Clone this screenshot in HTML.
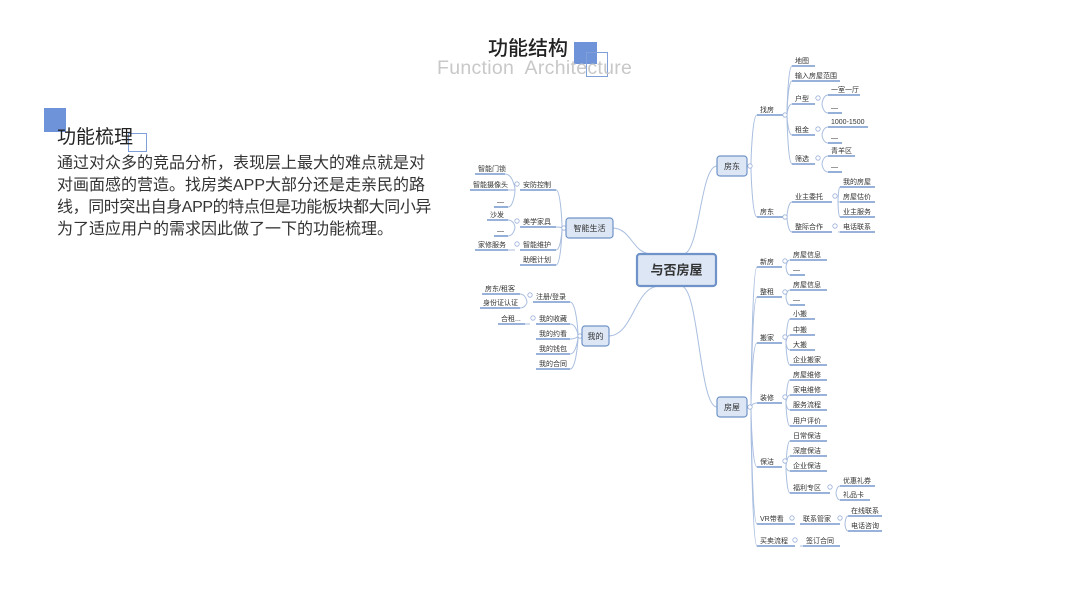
<!DOCTYPE html>
<html><head><meta charset="utf-8">
<style>
html,body{margin:0;padding:0;width:1067px;height:600px;overflow:hidden;background:#fff;font-family:"Liberation Sans","Noto Sans CJK SC",sans-serif;}
.a{position:absolute;}
</style></head><body>
<div class="a" style="left:574px;top:42px;width:23px;height:22px;background:#6f93d8;"></div>
<div class="a" style="left:586px;top:52px;width:22px;height:25px;border:1px solid #7f9fd8;box-sizing:border-box;"></div>
<div class="a" style="left:488px;top:32px;font-size:20px;color:#222;font-weight:500;">功能结构</div>
<div class="a" style="left:437px;top:57px;font-size:19.5px;color:#c8c8c8;letter-spacing:0.3px;">Function&nbsp; Architecture</div>

<div class="a" style="left:44px;top:108px;width:22px;height:24px;background:#6f93d8;"></div>
<div class="a" style="left:128px;top:133px;width:19px;height:19px;border:1px solid #7f9fd8;box-sizing:border-box;"></div>
<div class="a" style="left:57px;top:122px;font-size:19px;color:#222;">功能梳理</div>
<div class="a" style="left:57px;top:153px;width:420px;font-size:16px;line-height:22px;color:#333;white-space:nowrap;">通过对众多的竞品分析，表现层上最大的难点就是对<br>对画面感的营造。找房类APP大部分还是走亲民的路<br><span style="letter-spacing:-0.4px">线，同时突出自身APP的特点但是功能板块都大同小异</span><br>为了适应用户的需求因此做了一下的功能梳理。</div>

<svg id="m" class="a" style="left:0;top:0" width="1067" height="600" xmlns="http://www.w3.org/2000/svg"></svg>
<script>
var s=document.getElementById('m'),h='';
var LC='#a9bedf',UC='#5b85c4';
function L(ax,ay,bx,by){var xm=(ax+bx)/2;h+='<path d="M'+ax+' '+ay+' C'+xm+' '+ay+' '+xm+' '+by+' '+bx+' '+by+'" fill="none" stroke="'+LC+'" stroke-width="1"/>';}
function V(ax,ay,bx,by){h+='<path d="M'+ax+' '+ay+' C'+ax+' '+(ay+(by-ay)*0.1)+' '+(ax+(bx-ax)*0.2)+' '+by+' '+bx+' '+by+'" fill="none" stroke="'+LC+'" stroke-width="1"/>';}
function N(t,x1,x2,uy){h+='<line x1="'+x1+'" y1="'+uy+'" x2="'+x2+'" y2="'+uy+'" stroke="'+UC+'" stroke-width="1.3"/>';h+='<text x="'+(x1+3)+'" y="'+(uy-3)+'" font-size="7" fill="#333">'+t+'</text>';}
function C(x,y){h+='<circle cx="'+x+'" cy="'+y+'" r="2.2" fill="#fff" stroke="#9bb0d8" stroke-width="0.8"/>';}
function B(t,x,y,w,hh,fs,bw){h+='<rect x="'+x+'" y="'+y+'" width="'+w+'" height="'+hh+'" rx="3" fill="#dce6f4" stroke="#6f93c8" stroke-width="'+bw+'"/>';h+='<text x="'+(x+w/2)+'" y="'+(y+hh/2+fs*0.36)+'" font-size="'+fs+'" text-anchor="middle" fill="#333"'+(fs>10?' font-weight="bold"':'')+'>'+t+'</text>';}
function GR(px,py,ch){ch.forEach(function(c){V(px,py,c[1],c[3]);N(c[0],c[1],c[2],c[3]);});}
function GL(px,py,ch){ch.forEach(function(c){V(px,py,c[2],c[3]);N(c[0],c[1],c[2],c[3]);});}
L(683,254,717,166);L(681,286,717,407);L(612,228,652,254);L(608,336,660,286);
GR(751,166,[['找房',757,783,115],['房东',757,783,217]]);
GR(787,115,[['地图',792,815,66],['输入房屋范围',792,840,81],['户型',792,815,104],['租金',792,815,135],['筛选',792,815,164]]);
GR(822,104,[['一室一厅',828,860,95],['—',828,842,113]]);
GR(822,135,[['1000-1500',828,868,127],['—',828,842,143]]);
GR(822,164,[['青羊区',828,855,156],['—',828,842,172]]);
GR(787,217,[['业主委托',792,832,202],['整际合作',792,832,232]]);
GR(838,202,[['我的房屋',840,875,187],['房屋估价',840,875,202],['业主服务',840,875,217]]);
GR(838,232,[['电话联系',840,875,232]]);
C(785,115);C(785,217);C(818,98);C(818,129);C(818,158);C(835,196);C(835,226);C(750,166);
GR(751,407,[['新房',757,782,267],['整租',757,782,297],['搬家',757,782,343],['装修',757,782,403],['保洁',757,782,467],['VR带看',757,795,524],['买卖流程',757,795,546]]);
GR(786,267,[['房屋信息',790,827,260],['—',790,805,275]]);
GR(786,297,[['房屋信息',790,827,290],['—',790,805,305]]);
GR(786,343,[['小搬',790,815,319],['中搬',790,815,335],['大搬',790,815,350],['企业搬家',790,827,365]]);
GR(786,403,[['房屋维修',790,827,380],['家电维修',790,827,395],['服务流程',790,827,410],['用户评价',790,827,426]]);
GR(786,467,[['日常保洁',790,827,441],['深度保洁',790,827,456],['企业保洁',790,827,471],['福利专区',790,830,493]]);
GR(836,493,[['优惠礼券',840,875,486],['礼品卡',840,870,500]]);
GR(800,524,[['联系管家',800,840,524]]);
GR(845,524,[['在线联系',848,882,516],['电话咨询',848,882,531]]);
GR(800,546,[['签订合同',803,840,546]]);
C(785,261);C(785,292);C(785,337);C(785,397);C(785,461);C(830,487);C(792,518);C(840,518);C(795,540);C(750,407);
GL(562,228,[['安防控制',520,556,190],['美学家具',520,556,227],['智能维护',520,556,250],['助眠计划',520,556,265]]);
GL(515,190,[['智能门锁',475,505,174],['智能摄像头',470,508,190],['—',494,508,207]]);
GL(515,227,[['沙发',487,508,220],['—',494,508,236]]);
GL(515,250,[['家修服务',475,508,250]]);
C(517,184);C(517,221);C(517,244);C(564,228);
GL(578,336,[['注册/登录',533,570,302],['我的收藏',536,570,324],['我的约看',536,570,339],['我的钱包',536,570,354],['我的合同',536,570,369]]);
GL(527,302,[['房东/租客',482,520,294],['身份证认证',480,520,308]]);
GL(530,324,[['合租...',498,525,324]]);
C(530,295);C(533,318);C(580,336);
B('房东',717,156,30,20,8,1.2);B('房屋',717,397,30,20,8,1.2);B('智能生活',566,218,47,20,8,1.2);B('我的',582,326,27,20,8,1.2);
B('与否房屋',637,254,79,32,13,2.2);
s.innerHTML=h;
</script>
</body></html>
